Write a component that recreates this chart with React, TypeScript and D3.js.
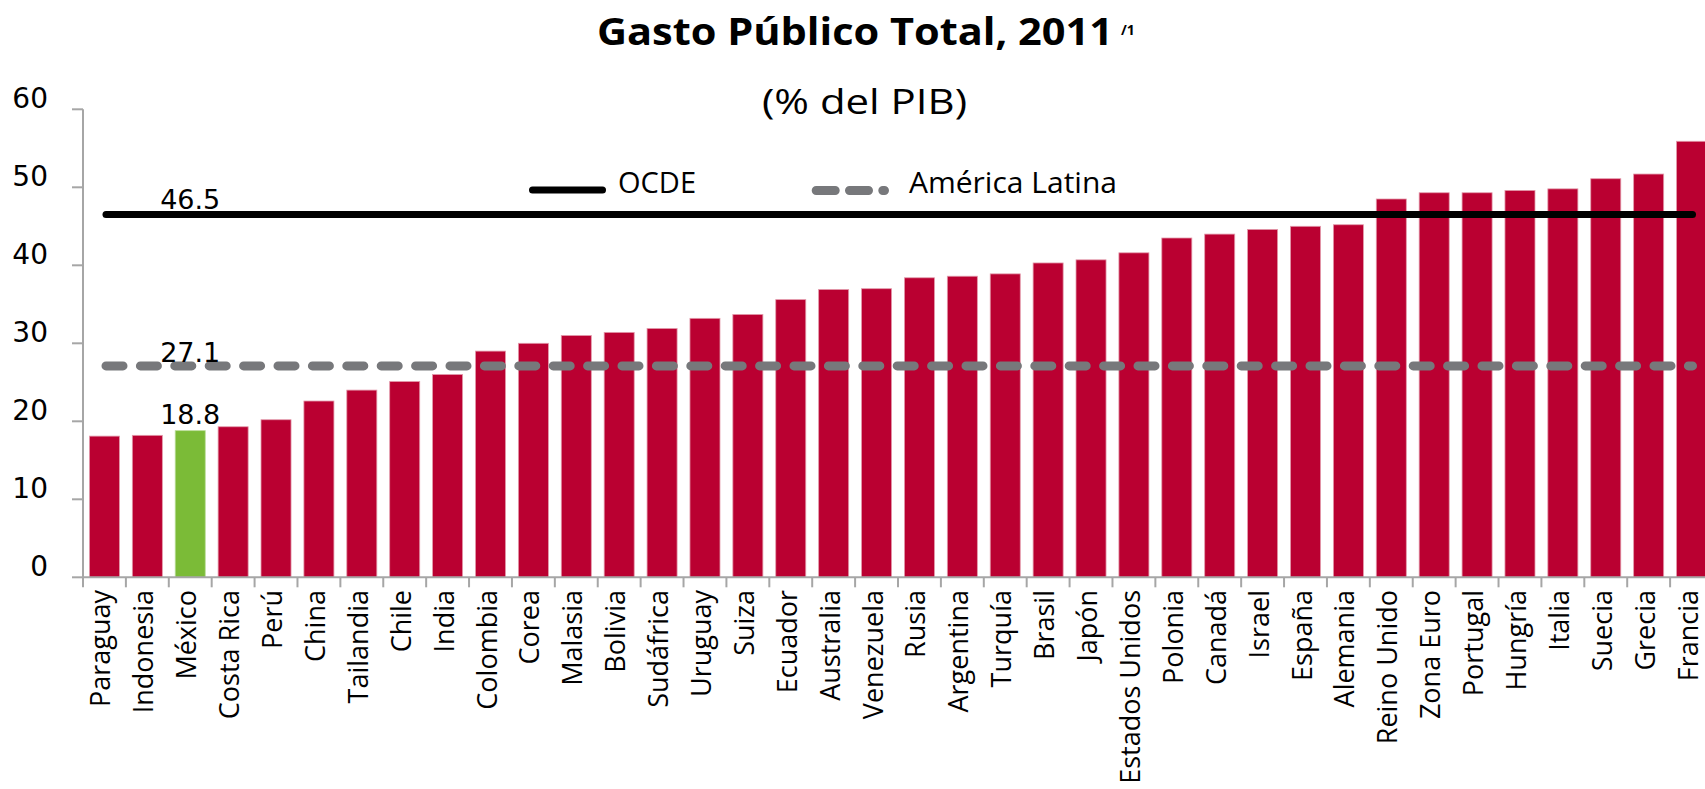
import React from "react";
import * as d3 from "d3";

const categories = [
  "Paraguay", "Indonesia", "México", "Costa Rica", "Perú", "China", "Tailandia", "Chile", "India",
  "Colombia", "Corea", "Malasia", "Bolivia", "Sudáfrica", "Uruguay", "Suiza", "Ecuador", "Australia",
  "Venezuela", "Rusia", "Argentina", "Turquía", "Brasil", "Japón", "Estados Unidos", "Polonia",
  "Canadá", "Israel", "España", "Alemania", "Reino Unido", "Zona Euro", "Portugal", "Hungría",
  "Italia", "Suecia", "Grecia", "Francia",
];
const values = [
  18.1, 18.2, 18.8, 19.3, 20.2, 22.6, 24.0, 25.1, 26.0,
  29.0, 30.0, 31.0, 31.4, 31.9, 33.2, 33.7, 35.6, 36.9,
  37.0, 38.4, 38.6, 38.9, 40.3, 40.7, 41.6, 43.5,
  44.0, 44.6, 45.0, 45.2, 48.5, 49.3, 49.3, 49.6,
  49.8, 51.1, 51.7, 55.9,
];
const highlightCategory = "México";
const ocdeValue = 46.5;
const latamValue = 27.1;
const yTicks = [0, 10, 20, 30, 40, 50, 60];
const titleText = "Gasto Público Total, 2011";
const titleNote = "/1";
const subtitleText = "(% del PIB)";
const legendLabels = ["OCDE", "América Latina"];

const W = 1705;
const H = 789;
const RED = "#BA0031";
const GREEN = "#7BBB37";
const GREY_LINE = "#77787B";
const AXIS = "#A6A6A6";

export default function App() {
  const x = d3
    .scaleBand<string>()
    .domain(categories)
    .range([83, 1713])
    .paddingInner(0.3)
    .paddingOuter(0.15);
  const y = d3.scaleLinear().domain([0, 60]).range([577.3, 109.3]);
  const step = x.step();
  const x0 = 83;
  const bw = x.bandwidth();
  const mexIdx = categories.indexOf(highlightCategory);
  const mexX = (x(highlightCategory) as number) + bw / 2;
  const tickFont = "'DejaVu Sans', sans-serif";
  const textFont = "'Open Sans', Lato, sans-serif";

  const bounds = d3.range(categories.length + 1).map((k) => x0 + k * step);

  return (
    <svg
      width={W}
      height={H}
      style={{ position: "absolute", left: 0, top: 0, background: "#fff" }}
    >
      <rect x={0} y={0} width={W} height={H} fill="#fff" />
      {/* Title */}
      <text
        x={597}
        y={45}
        fontFamily={textFont}
        fontWeight={700}
        fontSize={37}
        textLength={516}
        lengthAdjust="spacingAndGlyphs"
        fill="#000"
      >
        {titleText}
      </text>
      <text x={1121} y={35} fontFamily={textFont} fontWeight={700} fontSize={14} fill="#000">
        {titleNote}
      </text>
      <text
        x={762}
        y={114}
        fontFamily={textFont}
        fontSize={34}
        textLength={205}
        lengthAdjust="spacingAndGlyphs"
        fill="#000"
      >
        {subtitleText}
      </text>

      {/* Bars */}
      {categories.map((c, i) => (
        <rect
          key={c}
          x={x(c)}
          y={y(values[i])}
          width={bw}
          height={y(0) - y(values[i])}
          fill={c === highlightCategory ? GREEN : RED}
          stroke={c === highlightCategory ? "#b9dc98" : "#e39aab"}
          strokeWidth={0.8}
        />
      ))}

      {/* Y axis */}
      <line x1={x0} x2={x0} y1={y(60)} y2={y(0)} stroke={AXIS} strokeWidth={2} />
      {yTicks.map((t) => (
        <g key={t}>
          <line x1={72} x2={x0} y1={y(t)} y2={y(t)} stroke={AXIS} strokeWidth={2} />
          <text x={48} y={y(t) - 1} textAnchor="end" fontFamily={tickFont} fontSize={28} fill="#000">
            {t}
          </text>
        </g>
      ))}

      {/* X axis */}
      <line x1={x0} x2={W} y1={y(0)} y2={y(0)} stroke={AXIS} strokeWidth={2} />
      {bounds.map((b, k) => (
        <line key={k} x1={b} x2={b} y1={y(0)} y2={y(0) + 10} stroke={AXIS} strokeWidth={2} />
      ))}
      {categories.map((c) => (
        <text
          key={c}
          transform={`translate(${(x(c) as number) + bw / 2},${590}) rotate(-90)`}
          y={6}
          textAnchor="end"
          fontFamily="'Open Sans', sans-serif"
          fontSize={27}
          fill="#000"
        >
          {c}
        </text>
      ))}

      {/* Reference lines */}
      <line
        x1={106}
        x2={1692.5}
        y1={y(latamValue)}
        y2={y(latamValue)}
        stroke={GREY_LINE}
        strokeWidth={9}
        strokeDasharray="17 17.4"
        strokeLinecap="round"
      />
      <line
        x1={106}
        x2={1692.5}
        y1={y(ocdeValue)}
        y2={y(ocdeValue)}
        stroke="#000"
        strokeWidth={7}
        strokeLinecap="round"
      />

      {/* Value labels */}
      <text x={mexX} y={y(ocdeValue) - 6} textAnchor="middle" fontFamily={tickFont} fontSize={27} fill="#000">
        {ocdeValue.toFixed(1)}
      </text>
      <text x={mexX} y={y(latamValue) - 3.5} textAnchor="middle" fontFamily={tickFont} fontSize={27} fill="#000">
        {latamValue.toFixed(1)}
      </text>
      <text x={mexX} y={y(values[mexIdx]) - 7} textAnchor="middle" fontFamily={tickFont} fontSize={27} fill="#000">
        {values[mexIdx].toFixed(1)}
      </text>

      {/* Legend */}
      <line x1={532.5} x2={602.5} y1={190} y2={190} stroke="#000" strokeWidth={7} strokeLinecap="round" />
      <text
        x={618}
        y={193}
        fontFamily={textFont}
        fontSize={29}
        textLength={78}
        lengthAdjust="spacingAndGlyphs"
        fill="#000"
      >
        {legendLabels[0]}
      </text>
      <line
        x1={816.2}
        x2={884.5}
        y1={190.5}
        y2={190.5}
        stroke={GREY_LINE}
        strokeWidth={9}
        strokeDasharray="19 14.3"
        strokeLinecap="round"
      />
      <text
        x={909}
        y={193}
        fontFamily={textFont}
        fontSize={29}
        textLength={208}
        lengthAdjust="spacingAndGlyphs"
        fill="#000"
      >
        {legendLabels[1]}
      </text>
    </svg>
  );
}
